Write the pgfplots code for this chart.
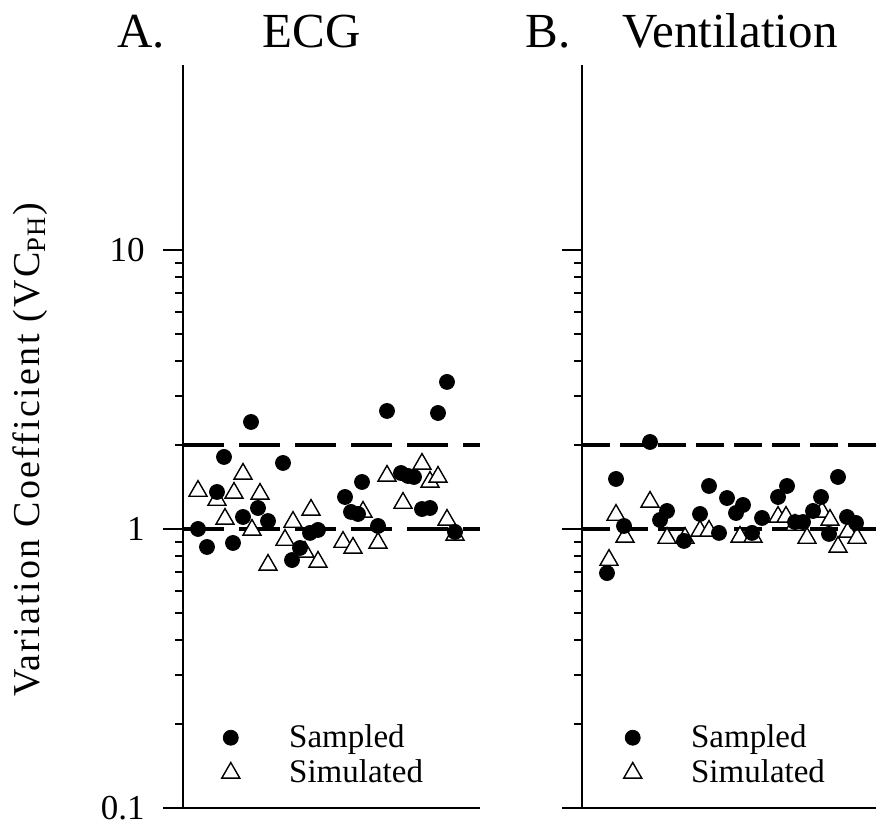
\documentclass[border=0pt]{standalone}
\usepackage{fontspec}
\setmainfont{Liberation Serif}
\newfontfamily\labelfont[LetterSpace=6]{Liberation Serif}
\usepackage{pgfplots}
\pgfplotsset{compat=1.18}
\newcommand\titlefont{\fontsize{24.5}{29}\selectfont}
\newcommand\tickfont{\fontsize{17.5}{21}\selectfont}
\newcommand\legfont{\fontsize{16.5}{19}\selectfont}

\pgfplotsset{
  sampled/.style={only marks, mark=*, mark size=3.75pt, black},
  simulated/.style={only marks, mark=triangle*, mark size=5.2pt,
    mark options={fill=white, draw=black, line width=0.7pt}},
  legend image code/.code={\draw[#1, only marks] plot coordinates {(0pt,0pt)}; \path (-6pt,0pt) (28.5pt,0pt);},
}

\begin{document}
\begin{tikzpicture}
\path[use as bounding box] (-91.5pt,-8.5pt) rectangle (346.5pt,404pt);

% Panel A: ECG
\begin{axis}[at={(0pt,0pt)}, anchor=south west,
  scale only axis, width=148.5pt, height=371.5pt,
  ymode=log, ymin=0.1, ymax=46, xmin=0, xmax=297,
  axis x line=bottom, axis y line=left,
  axis line style={line width=1pt,-},
  xtick=\empty, ytick={0.1,1,10},
  tick align=outside,
  major tick length=10pt, minor tick length=4pt,
  tick style={line width=1pt, black},
  yticklabels={0.1,1,10},
  yticklabel style={font=\tickfont, inner sep=0pt, anchor=east, xshift=-9pt},
  ylabel={Variation Coefficient (VC\textsubscript{PH})},
  ylabel style={at={(axis description cs:-0.4815,0.4818)}, anchor=base,
    font={\labelfont\fontsize{19}{23}\selectfont}},
  legend style={draw=none, fill=none, inner sep=0pt, font=\legfont,
      cells={anchor=west}, row sep=3.65pt, column sep=0pt,
      nodes={inner sep=0.5pt}, anchor=north west,
      at={(axis description cs:0.1178,0.1139)}},
]
\addlegendimage{sampled}\addlegendentry{Sampled}
\addlegendimage{simulated}\addlegendentry{Simulated}
\addplot[line width=1.75pt, dash pattern=on 20.5pt off 7.5pt, forget plot] coordinates {(0,2) (297,2)};
\addplot[line width=1.75pt, dash pattern=on 20.5pt off 7.5pt, forget plot] coordinates {(0,1) (297,1)};
\addplot[simulated, forget plot] coordinates {
(15,1.368) (34,1.270) (42,1.086) (51,1.346) (60,1.575) (69,0.992) (77,1.335)
(85,0.743) (102,0.913) (110,1.059) (122,0.827) (128,1.170) (135,0.762)
(160,0.898) (170,0.855) (180,1.151) (195,0.891) (204,1.549) (220,1.239)
(239,1.710) (247,1.474) (255,1.536) (264,1.077) (272,0.952)};
\addplot[sampled, forget plot] coordinates {
(15,1.00) (24,0.862) (34,1.357) (41,1.812) (50,0.891) (60,1.104) (68,2.418)
(75,1.189) (85,1.068) (100,1.724) (109,0.774) (117,0.855) (127,0.968)
(135,0.992) (162,1.302) (168,1.151) (175,1.132) (179,1.474) (195,1.025)
(204,2.648) (218,1.587) (225,1.549) (231,1.536) (239,1.179) (247,1.189)
(255,2.604) (264,3.365) (272,0.976)};
\end{axis}

% Panel B: Ventilation
\begin{axis}[at={(199.5pt,0pt)}, anchor=south west,
  scale only axis, width=147pt, height=371.5pt,
  ymode=log, ymin=0.1, ymax=46, xmin=0, xmax=294,
  axis x line=bottom, axis y line=left,
  axis line style={line width=1pt,-},
  xtick=\empty, ytick={0.1,1,10},
  tick align=outside,
  major tick length=10pt, minor tick length=4pt,
  tick style={line width=1pt, black},
  yticklabels={},
  legend style={draw=none, fill=none, inner sep=0pt, font=\legfont,
      cells={anchor=west}, row sep=3.65pt, column sep=0pt,
      nodes={inner sep=0.5pt}, anchor=north west,
      at={(axis description cs:0.129,0.1139)}},
]
\addlegendimage{sampled}\addlegendentry{Sampled}
\addlegendimage{simulated}\addlegendentry{Simulated}
\addplot[line width=1.75pt, dash pattern=on 14pt off 5pt, forget plot] coordinates {(0,2) (294,2)};
\addplot[line width=1.75pt, dash pattern=on 14pt off 5pt, forget plot] coordinates {(0,1) (294,1)};
\addplot[simulated, forget plot] coordinates {
(27,0.774) (34,1.122) (43,0.936) (68,1.250) (85,0.928) (103,0.928)
(118,0.984) (127,0.984) (158,0.936) (171,0.936) (196,1.104) (204,1.104)
(213,1.033) (225,0.928) (240,1.151) (248,1.077) (256,0.862) (266,0.976)
(275,0.928)};
\addplot[sampled, forget plot] coordinates {
(25,0.695) (34,1.511) (42,1.025) (68,2.050) (78,1.077) (85,1.160) (102,0.906)
(118,1.132) (127,1.426) (137,0.968) (145,1.291) (154,1.141) (161,1.219)
(170,0.968) (180,1.095) (196,1.302) (205,1.426) (213,1.059) (221,1.059)
(231,1.160) (239,1.302) (247,0.960) (256,1.536) (265,1.104) (274,1.051)};
\end{axis}

\node[anchor=base west, font=\titlefont, inner sep=0pt] at (-33pt,380pt) {A.};
\node[anchor=base west, font=\titlefont, inner sep=0pt] at (39.5pt,380pt) {ECG};
\node[anchor=base west, font=\titlefont, inner sep=0pt] at (171pt,380pt) {B.};
\node[anchor=base west, font=\titlefont, inner sep=0pt] at (219.5pt,380pt) {Ventilation};
\end{tikzpicture}
\end{document}
